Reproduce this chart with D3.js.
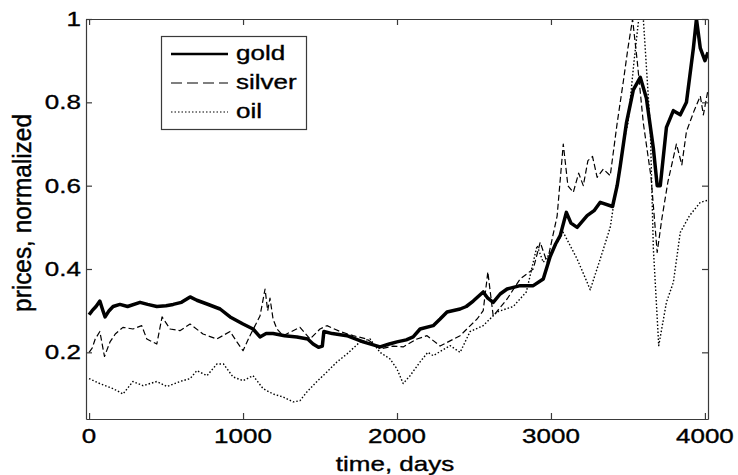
<!DOCTYPE html>
<html>
<head>
<meta charset="utf-8">
<script src="https://cdn.jsdelivr.net/npm/d3@7/dist/d3.min.js"></script>
<style>
  html, body { margin: 0; padding: 0; background: #fff; }
  svg { display: block; }
  text { font-family: "Liberation Sans", Arial, Helvetica, sans-serif; fill: #000; stroke: #000; stroke-width: 0.35px; }
</style>
</head>
<body>
<svg id="chart" width="738" height="475"></svg>
<script>
// ---------- data ----------
const goldDays = [0,20,45,70,90,104,130,156,200,250,331,380,440,500,546,600,656,700,766,851,916,1000,1065,1110,1150,1195,1270,1350,1420,1455,1490,1515,1525,1580,1675,1780,1890,1950,2000,2060,2105,2150,2235,2280,2325,2410,2450,2495,2560,2590,2625,2670,2715,2800,2885,2950,2995,3030,3060,3100,3130,3170,3235,3280,3320,3400,3430,3450,3490,3535,3580,3620,3665,3690,3710,3750,3795,3840,3880,3925,3945,3970,4000,4020];
const goldValues = [0.29,0.30,0.31,0.323,0.30,0.285,0.30,0.31,0.315,0.31,0.32,0.315,0.31,0.312,0.315,0.32,0.333,0.325,0.316,0.304,0.285,0.268,0.256,0.237,0.245,0.245,0.24,0.237,0.232,0.22,0.212,0.215,0.25,0.245,0.24,0.225,0.213,0.22,0.225,0.23,0.237,0.256,0.264,0.28,0.297,0.304,0.31,0.323,0.345,0.33,0.32,0.34,0.352,0.36,0.36,0.376,0.43,0.46,0.48,0.536,0.51,0.50,0.528,0.54,0.56,0.55,0.60,0.647,0.75,0.83,0.86,0.81,0.69,0.60,0.60,0.74,0.78,0.77,0.80,0.93,1.0,0.93,0.90,0.92];

const silverDays = [0,20,40,70,100,136,170,220,285,342,375,440,474,526,590,656,740,830,916,960,1000,1045,1110,1143,1160,1175,1195,1220,1260,1370,1435,1500,1545,1630,1715,1805,1890,1975,2040,2130,2195,2280,2410,2520,2560,2590,2625,2715,2800,2885,2930,2975,3040,3080,3110,3145,3180,3210,3240,3270,3300,3340,3385,3430,3470,3500,3530,3560,3600,3650,3690,3720,3760,3815,3850,3880,3930,3970,3990,4020];
const silverValues = [0.20,0.21,0.232,0.25,0.19,0.225,0.244,0.26,0.256,0.264,0.232,0.22,0.285,0.256,0.252,0.268,0.244,0.232,0.25,0.225,0.204,0.24,0.287,0.352,0.30,0.33,0.28,0.256,0.24,0.26,0.232,0.256,0.264,0.25,0.24,0.232,0.208,0.215,0.213,0.232,0.24,0.215,0.24,0.28,0.30,0.393,0.287,0.328,0.376,0.40,0.464,0.416,0.527,0.70,0.60,0.584,0.63,0.60,0.66,0.67,0.62,0.64,0.624,0.75,0.85,0.93,1.0,0.90,0.75,0.62,0.44,0.52,0.61,0.70,0.65,0.73,0.78,0.815,0.77,0.83];

const oilDays = [0,70,156,220,285,350,440,505,590,656,700,766,830,873,935,1000,1065,1130,1195,1260,1325,1370,1415,1480,1545,1610,1675,1760,1825,1890,1955,2000,2040,2085,2150,2200,2235,2345,2410,2475,2560,2650,2755,2840,2910,2950,3015,3080,3170,3235,3255,3320,3385,3430,3470,3500,3540,3570,3600,3645,3665,3700,3750,3795,3840,3900,3970,4020];
const oilValues = [0.137,0.125,0.113,0.10,0.13,0.12,0.13,0.118,0.13,0.137,0.156,0.144,0.172,0.172,0.141,0.132,0.144,0.113,0.10,0.093,0.081,0.084,0.105,0.13,0.153,0.177,0.196,0.225,0.232,0.20,0.184,0.16,0.125,0.144,0.177,0.20,0.192,0.216,0.20,0.25,0.264,0.297,0.31,0.345,0.456,0.416,0.448,0.488,0.424,0.368,0.35,0.424,0.50,0.61,0.70,0.75,0.90,1.0,1.0,0.74,0.45,0.216,0.32,0.368,0.488,0.528,0.56,0.565];

const xTicks = [0, 1000, 2000, 3000, 4000];
const yTicks = [0.2, 0.4, 0.6, 0.8, 1];
const yTickLabels = ["0.2", "0.4", "0.6", "0.8", "1"];
const seriesNames = ["gold", "silver", "oil"];
const xLabel = "time, days";
const yLabel = "prices, normalized";
const xDomain = [-20, 4020];
const yDomain = [0.04, 1];

// ---------- layout ----------
const L = 86, R = 708, T = 19, B = 419;
const SX = 1.3; // horizontal stretch of the original text
const svg = d3.select("#chart");

const x = d3.scaleLinear().domain(xDomain).range([L, R]);
const y = d3.scaleLinear().domain(yDomain).range([B, T]);

svg.append("defs").append("clipPath").attr("id", "plotclip")
  .append("rect").attr("x", L).attr("y", T).attr("width", R - L).attr("height", B - T);

const series = [
  { name: seriesNames[0], days: goldDays, vals: goldValues, width: 3.5, dash: null },
  { name: seriesNames[1], days: silverDays, vals: silverValues, width: 1.2, dash: "6,3" },
  { name: seriesNames[2], days: oilDays, vals: oilValues, width: 1.4, dash: "1.5,2" }
];

const line = d3.line().x(d => x(d[0])).y(d => y(d[1]));
const plot = svg.append("g").attr("clip-path", "url(#plotclip)");
[series[2], series[1], series[0]].forEach(s => {
  plot.append("path")
    .datum(s.days.map((d, i) => [d, s.vals[i]]))
    .attr("d", line)
    .attr("fill", "none")
    .attr("stroke", "#000")
    .attr("stroke-width", s.width)
    .attr("stroke-linejoin", "round")
    .attr("stroke-dasharray", s.dash);
});

// ---------- axes (MATLAB style box with inward ticks) ----------
const axisColor = "#3a3a3a";
const tickLen = 6;
const gBottom = svg.append("g").attr("transform", `translate(0,${B})`)
  .call(d3.axisBottom(x).tickValues(xTicks).tickSizeInner(-tickLen).tickSizeOuter(0).tickFormat(""));
const gTop = svg.append("g").attr("transform", `translate(0,${T})`)
  .call(d3.axisTop(x).tickValues(xTicks).tickSizeInner(-tickLen).tickSizeOuter(0).tickFormat(""));
const gLeft = svg.append("g").attr("transform", `translate(${L},0)`)
  .call(d3.axisLeft(y).tickValues(yTicks).tickSizeInner(-tickLen).tickSizeOuter(0).tickFormat(""));
const gRight = svg.append("g").attr("transform", `translate(${R},0)`)
  .call(d3.axisRight(y).tickValues(yTicks).tickSizeInner(-tickLen).tickSizeOuter(0).tickFormat(""));
[gBottom, gTop, gLeft, gRight].forEach(g => {
  g.selectAll("path.domain").attr("stroke", axisColor).attr("stroke-width", 1.2);
  g.selectAll(".tick line").attr("stroke", axisColor).attr("stroke-width", 1.2);
});

// tick labels
xTicks.forEach(t => {
  svg.append("text")
    .attr("transform", `translate(${x(t)},443) scale(${SX},1)`)
    .attr("text-anchor", "middle")
    .attr("font-size", 20)
    .text(String(t));
});
yTicks.forEach((t, i) => {
  svg.append("text")
    .attr("transform", `translate(81,${y(t) + 7}) scale(${SX},1)`)
    .attr("text-anchor", "end")
    .attr("font-size", 20)
    .text(yTickLabels[i]);
});

// axis labels
svg.append("text")
  .attr("transform", `translate(${(L + R) / 2 - 2},471) scale(${SX},1)`)
  .attr("text-anchor", "middle")
  .attr("font-size", 20)
  .text(xLabel);
svg.append("text")
  .attr("transform", `translate(31,${(T + B) / 2 - 6}) scale(1.25,1.22) rotate(-90)`)
  .attr("text-anchor", "middle")
  .attr("font-size", 20)
  .text(yLabel);

// ---------- legend ----------
const lg = svg.append("g");
lg.append("rect").attr("x", 161.5).attr("y", 36.5).attr("width", 145).attr("height", 93)
  .attr("fill", "#fff").attr("stroke", axisColor).attr("stroke-width", 1.2);
const legY = [54, 83, 112];
series.forEach((s, i) => {
  lg.append("line")
    .attr("x1", 171).attr("x2", 228)
    .attr("y1", legY[i]).attr("y2", legY[i])
    .attr("stroke", "#000")
    .attr("stroke-width", i === 0 ? 2.5 : 1.2)
    .attr("stroke-dasharray", i === 1 ? "11,5" : (i === 2 ? "1.5,2" : null));
  lg.append("text")
    .attr("transform", `translate(236,${legY[i] + 6}) scale(${SX},1)`)
    .attr("font-size", 20)
    .text(s.name);
});
</script>
</body>
</html>
